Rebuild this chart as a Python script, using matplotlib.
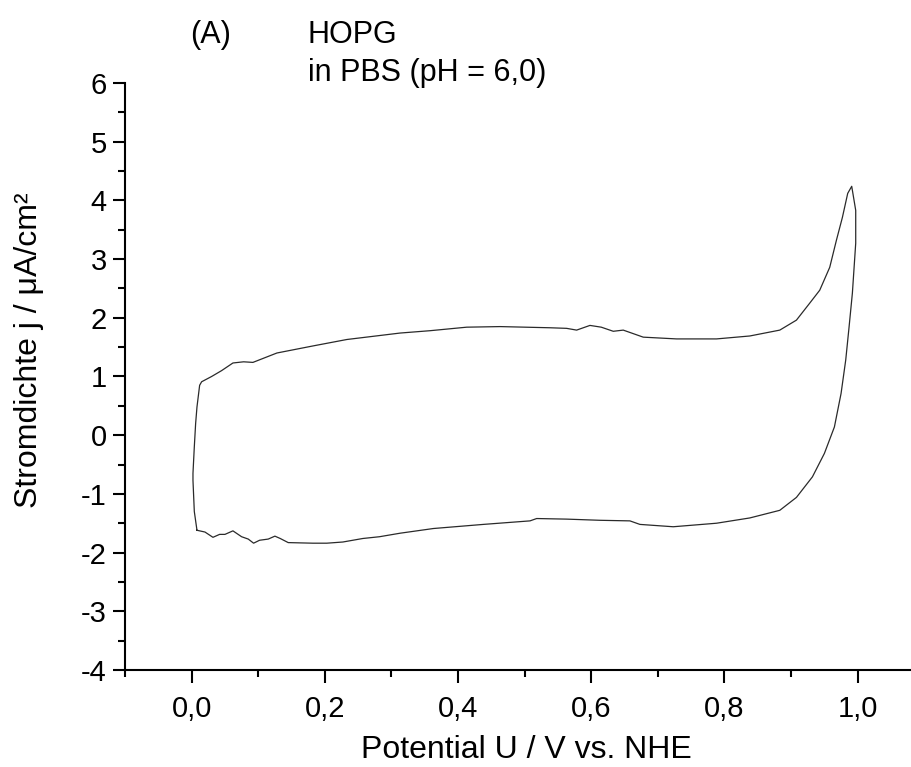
import matplotlib
matplotlib.use("Agg")
import matplotlib.pyplot as plt
from matplotlib.ticker import MultipleLocator, FuncFormatter

# cyclic voltammogram (potential V vs NHE, current uA/cm2)
potential = [
    0.008, 0.004, 0.002, 0.002, 0.004, 0.006, 0.008, 0.012, 0.015,
    0.030, 0.045, 0.062, 0.078, 0.092, 0.110, 0.128, 0.155, 0.182, 0.233,
    0.313, 0.358, 0.413, 0.463, 0.538, 0.563, 0.578, 0.598, 0.615, 0.633,
    0.648, 0.678, 0.728, 0.788, 0.838, 0.883, 0.908, 0.928, 0.943, 0.958,
    0.968, 0.977, 0.985, 0.991, 0.997, 0.997, 0.992, 0.987, 0.982, 0.975,
    0.965, 0.950, 0.932, 0.908, 0.883, 0.838, 0.788, 0.723, 0.673, 0.658,
    0.613, 0.563, 0.518, 0.508, 0.438, 0.363, 0.313, 0.282, 0.257, 0.242,
    0.227, 0.203, 0.182, 0.145, 0.133, 0.125, 0.115, 0.102, 0.093, 0.085,
    0.075, 0.062, 0.050, 0.042, 0.032, 0.020, 0.008,
]
current = [
    -1.62, -1.30, -0.77, -0.65, -0.20, 0.20, 0.48, 0.85, 0.91,
    1.00, 1.10, 1.23, 1.25, 1.24, 1.32, 1.40, 1.46, 1.52, 1.63,
    1.74, 1.78, 1.84, 1.85, 1.83, 1.82, 1.79, 1.87, 1.84, 1.77,
    1.79, 1.67, 1.64, 1.64, 1.69, 1.79, 1.96, 2.25, 2.47, 2.86,
    3.32, 3.71, 4.12, 4.24, 3.83, 3.27, 2.42, 1.84, 1.28, 0.71,
    0.14, -0.31, -0.71, -1.06, -1.28, -1.41, -1.50, -1.56, -1.52, -1.46,
    -1.45, -1.43, -1.42, -1.46, -1.52, -1.59, -1.67, -1.73, -1.76, -1.79,
    -1.82, -1.84, -1.84, -1.83, -1.76, -1.72, -1.77, -1.79, -1.84, -1.77,
    -1.73, -1.63, -1.69, -1.69, -1.74, -1.65, -1.62,
]

plt.rcParams["font.family"] = ["Liberation Sans", "DejaVu Sans"]
FS = 21

fig = plt.figure(figsize=(9.12, 7.67), dpi=100)
ax = fig.add_axes([0.1371, 0.1265, 0.8618, 0.7653])

ax.plot(potential, current, color="#2a2a2a", lw=0.9)

ax.set_xlim(-0.1, 1.08)
ax.set_ylim(-4, 6)
ax.xaxis.set_major_locator(MultipleLocator(0.2))
ax.xaxis.set_minor_locator(MultipleLocator(0.1))
ax.yaxis.set_major_locator(MultipleLocator(1))
ax.yaxis.set_minor_locator(MultipleLocator(0.5))
ax.xaxis.set_major_formatter(FuncFormatter(lambda v, _: f"{v:.1f}".replace(".", ",").replace("-0,0", "0,0")))
ax.yaxis.set_major_formatter(FuncFormatter(lambda v, _: f"{v:.0f}"))

for s in ("top", "right"):
    ax.spines[s].set_visible(False)
for s in ("left", "bottom"):
    ax.spines[s].set_linewidth(1.5)

ax.tick_params(which="both", direction="out", width=1.5, labelsize=FS)
ax.tick_params(axis="x", which="major", length=9, pad=9)
ax.tick_params(axis="x", which="minor", length=5)
ax.tick_params(axis="y", which="major", length=9, pad=4)
ax.tick_params(axis="y", which="minor", length=5)

ax.set_xlabel("Potential U / V vs. NHE", fontsize=23)
ax.set_ylabel("Stromdichte j / \u03bcA/cm\u00b2", fontsize=23)
ax.xaxis.set_label_coords(0.51, -0.111)
ax.yaxis.set_label_coords(-0.103, 0.545)

fig.text(190 / 912, 1 - 43 / 767, "(A)", fontsize=22, va="baseline")
fig.text(308 / 912, 1 - 43 / 767, "HOPG", fontsize=22, va="baseline")
fig.text(308 / 912, 1 - 81 / 767, "in PBS (pH = 6,0)", fontsize=22, va="baseline")

fig.savefig("out.png", dpi=100)
